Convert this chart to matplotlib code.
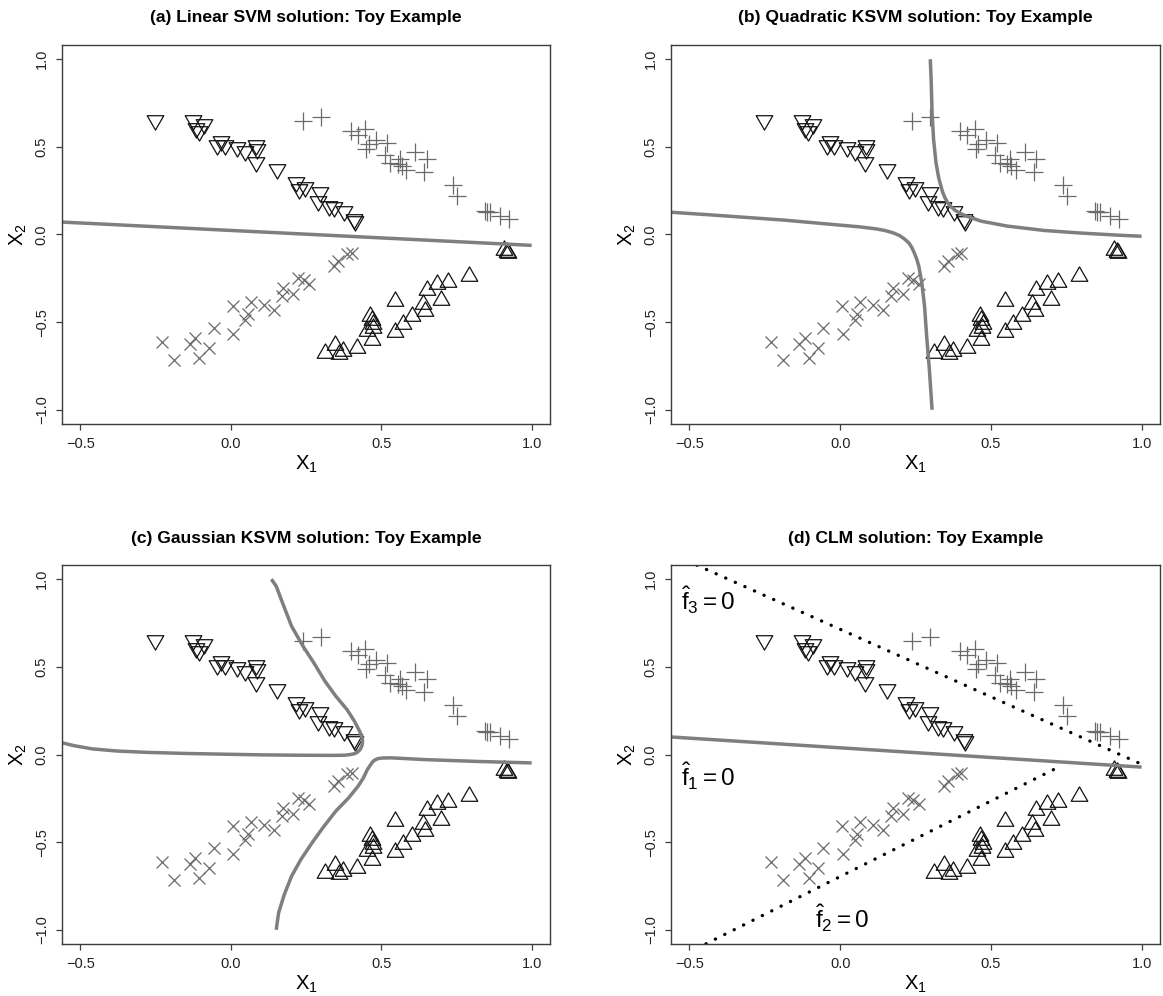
import matplotlib
matplotlib.use('Agg')

import matplotlib.pyplot as plt
from matplotlib import font_manager
from matplotlib.path import Path

# ---- data (same toy points in all four panels) ----
dn_x = [-0.251, -0.126, -0.090, -0.107, -0.116, -0.033, -0.045, -0.020, 0.022, 0.048,
        0.085, 0.087, 0.083, 0.155, 0.217, 0.247, 0.228, 0.297, 0.291, 0.325,
        0.342, 0.377, 0.410, 0.413]
dn_y = [0.656, 0.652, 0.631, 0.593, 0.609, 0.536, 0.510, 0.513, 0.498, 0.479,
        0.513, 0.489, 0.415, 0.371, 0.300, 0.270, 0.257, 0.241, 0.190, 0.162,
        0.156, 0.133, 0.091, 0.076]

up_x = [0.313, 0.345, 0.360, 0.374, 0.421, 0.454, 0.463, 0.468, 0.474, 0.472,
        0.468, 0.546, 0.546, 0.572, 0.602, 0.638, 0.645, 0.651, 0.687, 0.698,
        0.723, 0.793, 0.908, 0.917, 0.922]
up_y = [-0.675, -0.630, -0.680, -0.666, -0.646, -0.551, -0.466, -0.490, -0.513, -0.532,
        -0.599, -0.380, -0.555, -0.513, -0.466, -0.395, -0.437, -0.319, -0.281, -0.371,
        -0.272, -0.238, -0.091, -0.099, -0.104]

pl_x = [0.240, 0.299, 0.399, 0.422, 0.447, 0.450, 0.458, 0.483, 0.519, 0.513,
        0.530, 0.563, 0.568, 0.583, 0.555, 0.613, 0.651, 0.643, 0.740, 0.751,
        0.845, 0.852, 0.862, 0.895, 0.926]
pl_y = [0.646, 0.669, 0.589, 0.565, 0.603, 0.485, 0.515, 0.538, 0.520, 0.456,
        0.409, 0.428, 0.390, 0.370, 0.400, 0.470, 0.432, 0.355, 0.280, 0.219,
        0.133, 0.130, 0.127, 0.105, 0.086]

cr_x = [-0.229, -0.190, -0.135, -0.118, -0.104, -0.074, -0.057, 0.007, 0.009, 0.048,
        0.056, 0.067, 0.109, 0.142, 0.170, 0.175, 0.208, 0.225, 0.242, 0.261,
        0.344, 0.358, 0.386, 0.402]
cr_y = [-0.614, -0.717, -0.627, -0.589, -0.703, -0.647, -0.532, -0.409, -0.565, -0.485,
        -0.456, -0.386, -0.405, -0.428, -0.352, -0.304, -0.342, -0.247, -0.260, -0.285,
        -0.181, -0.152, -0.114, -0.104]

# (a) linear SVM boundary
lin_x = [-0.561, 1.000]
lin_y = [0.071, -0.062]

# (b) quadratic KSVM boundary, two branches
qb_right_x = [0.299, 0.302, 0.305, 0.310, 0.318, 0.327, 0.339, 0.347, 0.357, 0.368,
              0.382, 0.400, 0.419, 0.468, 0.554, 0.677, 0.800, 0.924, 1.000]
qb_right_y = [1.000, 0.880, 0.694, 0.542, 0.409, 0.323, 0.247, 0.212, 0.181, 0.158,
              0.137, 0.119, 0.105, 0.076, 0.048, 0.023, 0.008, -0.004, -0.010]
qb_left_x = [-0.561, -0.431, -0.308, -0.185, -0.062, 0.062, 0.120, 0.148, 0.175, 0.197,
             0.213, 0.228, 0.238, 0.246, 0.254, 0.261, 0.271, 0.280, 0.287, 0.296, 0.305]
qb_left_y = [0.127, 0.112, 0.097, 0.082, 0.063, 0.044, 0.032, 0.023, 0.010, -0.006,
             -0.025, -0.048, -0.075, -0.105, -0.140, -0.181, -0.276, -0.409, -0.580,
             -0.770, -1.000]

# (c) gaussian KSVM boundary, two branches
gc_upper_x = [-0.561, -0.520, -0.460, -0.380, -0.276, -0.150, -0.030, 0.100, 0.214,
              0.337, 0.380, 0.398, 0.410, 0.420, 0.430, 0.436, 0.438, 0.436, 0.429,
              0.411, 0.386, 0.349, 0.313, 0.276, 0.240, 0.202, 0.172, 0.151, 0.135]
gc_upper_y = [0.067, 0.050, 0.032, 0.020, 0.012, 0.006, 0.002, -0.002, -0.004,
              -0.005, -0.004, 0.000, 0.004, 0.012, 0.028, 0.050, 0.075, 0.100, 0.130,
              0.190, 0.257, 0.333, 0.418, 0.523, 0.618, 0.732, 0.865, 0.960, 1.000]
gc_lower_x = [1.000, 0.827, 0.643, 0.533, 0.505, 0.490, 0.478, 0.470, 0.462, 0.453,
              0.441, 0.423, 0.392, 0.349, 0.306, 0.270, 0.233, 0.202, 0.178, 0.159, 0.151]
gc_lower_y = [-0.048, -0.040, -0.029, -0.019, -0.020, -0.023, -0.032, -0.045, -0.065,
              -0.089, -0.133, -0.181, -0.247, -0.323, -0.418, -0.504, -0.599, -0.694,
              -0.798, -0.903, -1.000]

# (d) CLM lines
f1_x = [-0.561, 1.000]
f1_y = [0.100, -0.072]
f2_x = [-0.445, 0.730]
f2_y = [-1.080, -0.067]
f3_x = [-0.475, 0.994]
f3_y = [1.080, -0.051]

# labels of the CLM lines: (text, left x, baseline y)
f_labels = [
    (r'$\hat{\mathrm{f}}_3 = 0$', -0.527, 0.822),
    (r'$\hat{\mathrm{f}}_1 = 0$', -0.527, -0.180),
    (r'$\hat{\mathrm{f}}_2 = 0$', -0.085, -0.989),
]

titles = ['(a) Linear SVM solution: Toy Example',
          '(b) Quadratic KSVM solution: Toy Example',
          '(c) Gaussian KSVM solution: Toy Example',
          '(d) CLM solution: Toy Example']
x_ticks = [-0.5, 0.0, 0.5, 1.0]
x_ticklabels = ['\u22120.5', '0.0', '0.5', '1.0']
y_ticks = [-1.0, -0.5, 0.0, 0.5, 1.0]
y_ticklabels = ['\u22121.0', '\u22120.5', '0.0', '0.5', '1.0']

# ---- fonts ----
names = {f.name for f in font_manager.fontManager.ttflist}
fam = 'Liberation Sans Narrow' if 'Liberation Sans Narrow' in names else 'Liberation Sans'
plt.rcParams['font.family'] = [fam, 'DejaVu Sans']
plt.rcParams['mathtext.fontset'] = 'custom'
plt.rcParams['mathtext.rm'] = fam
plt.rcParams['mathtext.it'] = fam
plt.rcParams['mathtext.bf'] = fam + ':bold'

BOX = '#3c3c3c'
LINE = '#7f7f7f'
SYM = '#6a6a6a'

tri_up = Path([(-1, -0.577), (1, -0.577), (0, 1.155), (-1, -0.577)],
              [Path.MOVETO, Path.LINETO, Path.LINETO, Path.CLOSEPOLY])
tri_dn = Path([(-1, 0.577), (1, 0.577), (0, -1.155), (-1, 0.577)],
              [Path.MOVETO, Path.LINETO, Path.LINETO, Path.CLOSEPOLY])

W, H = 1163, 996
boxes = [(62, 45, 550, 424), (671, 45, 1160, 424),
         (62, 565, 550, 944), (671, 565, 1160, 944)]

fig = plt.figure(figsize=(W / 100, H / 100), dpi=100)


def base_panel(box, title):
    l, t, r, b = box
    ax = fig.add_axes([l / W, 1 - b / H, (r - l) / W, (b - t) / H])
    hpx = b - t
    wpx = r - l
    ax.set_xlim(-0.561, 1.061)
    ax.set_ylim(-1.081, 1.081)
    ax.set_xticks(x_ticks)
    ax.set_xticklabels(x_ticklabels)
    ax.set_yticks(y_ticks)
    ax.set_yticklabels(y_ticklabels, rotation=90, va='center')
    ax.tick_params(direction='out', length=4.5, width=0.9, color=BOX,
                   labelsize=10.5, pad=5, labelcolor='#222222')
    for s in ax.spines.values():
        s.set_color(BOX)
        s.set_linewidth(1.0)

    ax.plot(dn_x, dn_y, ls='none', marker=tri_dn, ms=13.8, mfc='none',
            mec='#111111', mew=0.9)
    ax.plot(up_x, up_y, ls='none', marker=tri_up, ms=13.8, mfc='none',
            mec='#111111', mew=0.9)
    ax.plot(pl_x, pl_y, ls='none', marker='+', ms=12.5, mec=SYM, mew=0.9)
    ax.plot(cr_x, cr_y, ls='none', marker='x', ms=8.6, mec=SYM, mew=0.9)

    ax.text(0.5, 1 + 27 / hpx, title, transform=ax.transAxes, ha='center',
            va='center', fontsize=12.6, fontweight='bold')
    ax.text(0.5, -40 / hpx, r'$\mathrm{X}_1$', transform=ax.transAxes,
            ha='center', va='center', fontsize=14.5)
    ax.text(-44 / wpx, 0.5, r'$\mathrm{X}_2$', transform=ax.transAxes,
            ha='center', va='center', fontsize=14.5, rotation=90)
    return ax


axes = [base_panel(bx, tt) for bx, tt in zip(boxes, titles)]

lw_b = 2.5
axes[0].plot(lin_x, lin_y, color=LINE, lw=lw_b, solid_capstyle='butt')

axes[1].plot(qb_right_x, qb_right_y, color=LINE, lw=lw_b, solid_capstyle='butt')
axes[1].plot(qb_left_x, qb_left_y, color=LINE, lw=lw_b, solid_capstyle='butt')

axes[2].plot(gc_upper_x, gc_upper_y, color=LINE, lw=lw_b, solid_capstyle='butt')
axes[2].plot(gc_lower_x, gc_lower_y, color=LINE, lw=lw_b, solid_capstyle='butt')

axd = axes[3]
axd.plot(f1_x, f1_y, color=LINE, lw=lw_b, solid_capstyle='butt')
for xs, ys in [(f2_x, f2_y), (f3_x, f3_y)]:
    axd.plot(xs, ys, color='black', lw=2.4, linestyle=(0, (0.05, 3.1)),
             dash_capstyle='round')
for txt, tx, ty in f_labels:
    axd.text(tx, ty, txt, ha='left', va='baseline', fontsize=17.5)

fig.savefig('out.png', dpi=100, facecolor='white')
